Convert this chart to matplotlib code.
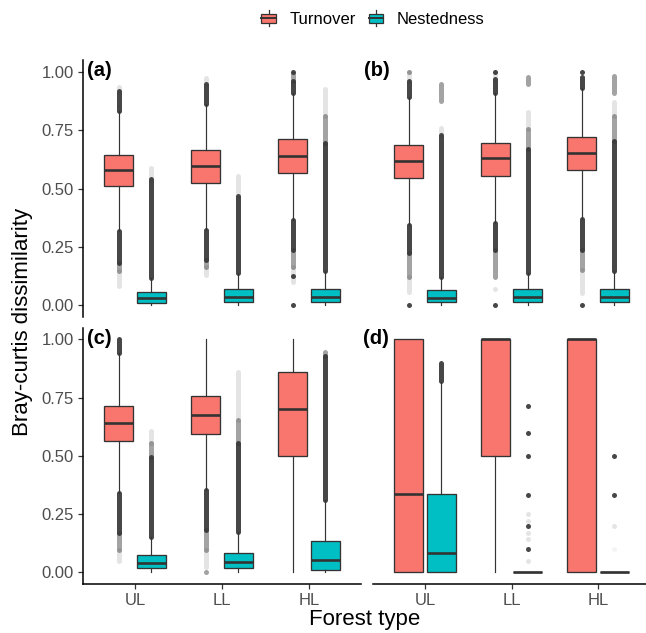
import numpy as np
import matplotlib
matplotlib.use('Agg')
import matplotlib.pyplot as plt
from matplotlib.legend_handler import HandlerBase
from matplotlib.patches import Patch, Rectangle
from matplotlib.lines import Line2D
from matplotlib.ticker import FormatStrFormatter

plt.rcParams['font.family'] = ['Liberation Sans', 'DejaVu Sans']

forest_types = ['UL', 'LL', 'HL']
panel_tags = ['(a)', '(b)', '(c)', '(d)']
series_names = ['Turnover', 'Nestedness']

# box stats per forest type: [whisker low, q1, median, q3, whisker high]
turnover_a = [[0.316, 0.510, 0.579, 0.644, 0.833],
              [0.323, 0.522, 0.595, 0.664, 0.865],
              [0.363, 0.568, 0.639, 0.711, 0.912]]
nested_a = [[0.0, 0.010, 0.029, 0.055, 0.115],
            [0.0, 0.014, 0.036, 0.068, 0.139],
            [0.0, 0.014, 0.036, 0.069, 0.144]]
turnover_b = [[0.345, 0.547, 0.618, 0.687, 0.891],
              [0.352, 0.553, 0.629, 0.697, 0.908],
              [0.369, 0.578, 0.651, 0.721, 0.931]]
nested_b = [[0.0, 0.012, 0.032, 0.065, 0.122],
            [0.0, 0.014, 0.036, 0.068, 0.139],
            [0.0, 0.014, 0.036, 0.069, 0.148]]
turnover_c = [[0.339, 0.562, 0.641, 0.714, 0.940],
              [0.353, 0.592, 0.675, 0.757, 1.000],
              [0.0, 0.499, 0.700, 0.858, 1.000]]
nested_c = [[0.0, 0.017, 0.039, 0.074, 0.153],
            [0.0, 0.017, 0.043, 0.082, 0.174],
            [0.0, 0.010, 0.051, 0.134, 0.310]]
turnover_d = [[0.0, 0.0, 0.335, 1.0, 1.0],
              [0.0, 0.5, 1.0, 1.0, 1.0],
              [0.0, 0.0, 1.0, 1.0, 1.0]]
nested_d = [[0.0, 0.0, 0.084, 0.335, 0.818],
            [0.0, 0.0, 0.0, 0.0, 0.0],
            [0.0, 0.0, 0.0, 0.0, 0.0]]

# outliers: (from, to, density 0-3)
out_turn_a = [[(0.833, 0.919, 3), (0.919, 0.934, 1), (0.180, 0.316, 3), (0.144, 0.180, 2), (0.080, 0.144, 1)],
              [(0.865, 0.948, 3), (0.948, 0.973, 1), (0.194, 0.323, 3), (0.165, 0.194, 2), (0.129, 0.165, 1)],
              [(0.912, 0.960, 3), (0.960, 0.990, 2), (1.0, 1.0, 3), (0.236, 0.363, 3), (0.165, 0.236, 2),
               (0.100, 0.165, 1), (0.125, 0.125, 3), (0.0, 0.0, 3)]]
out_nest_a = [[(0.115, 0.540, 3), (0.540, 0.590, 1)],
              [(0.139, 0.467, 3), (0.467, 0.553, 1)],
              [(0.144, 0.697, 3), (0.697, 0.810, 2), (0.810, 0.927, 1)]]
out_turn_b = [[(0.891, 0.963, 3), (0.963, 1.0, 1), (1.0, 1.0, 2), (0.223, 0.345, 3), (0.122, 0.223, 2),
               (0.057, 0.122, 1), (0.0, 0.0, 3)],
              [(0.908, 0.970, 3), (0.970, 1.0, 1), (1.0, 1.0, 3), (0.237, 0.352, 3), (0.122, 0.237, 2),
               (0.071, 0.071, 1), (0.0, 0.0, 3)],
              [(0.931, 0.977, 3), (1.0, 1.0, 3), (0.237, 0.369, 3), (0.151, 0.237, 2), (0.050, 0.151, 1),
               (0.0, 0.0, 3)]]
out_nest_b = [[(0.122, 0.730, 3), (0.730, 0.760, 1), (0.876, 0.948, 2)],
              [(0.139, 0.668, 3), (0.668, 0.754, 2), (0.754, 0.830, 1), (0.948, 0.977, 2)],
              [(0.148, 0.704, 3), (0.704, 0.810, 2), (0.810, 0.870, 1), (0.912, 0.984, 2)]]
out_turn_c = [[(0.940, 1.0, 3), (0.167, 0.339, 3), (0.096, 0.167, 2), (0.050, 0.096, 1)],
              [(0.181, 0.353, 3), (0.096, 0.181, 2), (0.024, 0.096, 1), (0.0, 0.0, 2)],
              []]
out_nest_c = [[(0.153, 0.497, 3), (0.497, 0.554, 2), (0.554, 0.605, 1)],
              [(0.174, 0.554, 3), (0.554, 0.654, 2), (0.654, 0.860, 1)],
              [(0.310, 0.930, 3), (0.930, 0.947, 2)]]
out_turn_d = [[], [], []]
out_nest_d = [[(0.820, 0.897, 3)],
              [(0.714, 0.714, 3), (0.6, 0.6, 3), (0.5, 0.5, 3), (0.333, 0.333, 3), (0.25, 0.25, 1),
               (0.222, 0.222, 1), (0.2, 0.2, 3), (0.167, 0.167, 1), (0.143, 0.143, 1), (0.1, 0.1, 3),
               (0.05, 0.05, 1)],
              [(0.5, 0.5, 3), (0.333, 0.333, 3), (0.2, 0.2, 1), (0.1, 0.1, 0)]]

turnover = [turnover_a, turnover_b, turnover_c, turnover_d]
nested = [nested_a, nested_b, nested_c, nested_d]
out_turn = [out_turn_a, out_turn_b, out_turn_c, out_turn_d]
out_nest = [out_nest_a, out_nest_b, out_nest_c, out_nest_d]

TURN = '#F8766D'
NEST = '#00BFC4'
EDGE = '#333333'
shade_alpha = {0: 0.05, 1: 0.13, 2: 0.45, 3: 0.9}

W, H = 646, 633
fig = plt.figure(figsize=(W / 100, H / 100), dpi=100)

col_x = [(83, 278), (373, 277)]
row_y = [(60.4, 316.7), (327.7, 584.0)]
axes = []
for r in range(2):
    for c in range(2):
        x0, w = col_x[c]
        top, bot = row_y[r]
        ax = fig.add_axes([x0 / W, 1 - bot / H, w / W, (bot - top) / H])
        axes.append(ax)


def box_stats(rows):
    return [dict(whislo=a, q1=b, med=m, q3=d, whishi=e, fliers=[]) for a, b, m, d, e in rows]


xpos = np.arange(1, len(forest_types) + 1)
for k, ax in enumerate(axes):
    for stats, outl, dx, color in ((turnover[k], out_turn[k], -0.1875, TURN),
                                   (nested[k], out_nest[k], 0.1875, NEST)):
        pos = xpos + dx
        for p, runs in zip(pos, outl):
            for lo, hi, s in runs:
                if lo == hi:
                    ax.plot([p], [lo], 'o', ms=3.6, mec='none', mfc=EDGE, alpha=shade_alpha[s], zorder=1)
                else:
                    ax.plot([p, p], [lo, hi], color=EDGE, lw=3.6, alpha=shade_alpha[s],
                            solid_capstyle='round', zorder=1)
        ax.bxp(box_stats(stats), positions=pos, widths=0.3375, patch_artist=True,
               showfliers=False, showcaps=False, manage_ticks=False,
               boxprops=dict(facecolor=color, edgecolor=EDGE, linewidth=0.95),
               medianprops=dict(color=EDGE, linewidth=1.9, solid_capstyle='butt'),
               whiskerprops=dict(color=EDGE, linewidth=0.85))

    ax.set_xlim(0.4, 3.6)
    ax.set_ylim(-0.05, 1.05)
    ax.set_xticks(xpos)
    ax.set_xticklabels(forest_types)
    ax.set_yticks([0, 0.25, 0.5, 0.75, 1.0])
    ax.yaxis.set_major_formatter(FormatStrFormatter('%.2f'))
    ax.tick_params(labelsize=12, labelcolor='#4D4D4D', color=EDGE, length=3.5, width=0.9, pad=3)
    for s in ('top', 'right'):
        ax.spines[s].set_visible(False)
    for s in ('left', 'bottom'):
        ax.spines[s].set_linewidth(1.1)
    if k % 2 == 1:
        ax.spines['left'].set_visible(False)
        ax.tick_params(left=False, labelleft=False)
    if k < 2:
        ax.spines['bottom'].set_visible(False)
        ax.tick_params(bottom=False, labelbottom=False)
    ax.set_facecolor('none')

tag_xy = [(87, 70), (364, 70), (87, 339), (363, 339)]
for tag, (tx, ty) in zip(panel_tags, tag_xy):
    fig.text(tx / W, 1 - ty / H, tag, fontsize=14.5, fontweight='bold', ha='left', va='center')

fig.text(23 / W, 1 - 322 / H, 'Bray-curtis dissimilarity', rotation=90, fontsize=16,
         ha='center', va='center')
fig.text(365 / W, 1 - 620 / H, 'Forest type', fontsize=16, ha='center', va='center')


class BoxKey(HandlerBase):
    def create_artists(self, legend, orig_handle, xdescent, ydescent, width, height, fontsize, trans):
        x0, y0 = -xdescent, -ydescent
        xc = x0 + width / 2
        whisk = Line2D([xc, xc], [y0 - 0.2 * height, y0 + 1.2 * height], color=EDGE, lw=0.9, transform=trans)
        box = Rectangle((x0, y0 + 0.1 * height), width, 0.8 * height, facecolor=orig_handle.get_facecolor(),
                        edgecolor=EDGE, lw=0.9, transform=trans)
        med = Line2D([x0, x0 + width], [y0 + height / 2] * 2, color=EDGE, lw=1.4, transform=trans)
        return [whisk, box, med]


handles = [Patch(facecolor=TURN, label=series_names[0]), Patch(facecolor=NEST, label=series_names[1])]
fig.legend(handles=handles, handler_map={Patch: BoxKey()}, loc='center',
           bbox_to_anchor=(373 / W, 1 - 19.5 / H), ncol=2, frameon=False, fontsize=12,
           handlelength=0.87, handleheight=0.7, handletextpad=0.8, columnspacing=0.8,
           borderpad=0, borderaxespad=0)

fig.savefig('out.png', dpi=100)
